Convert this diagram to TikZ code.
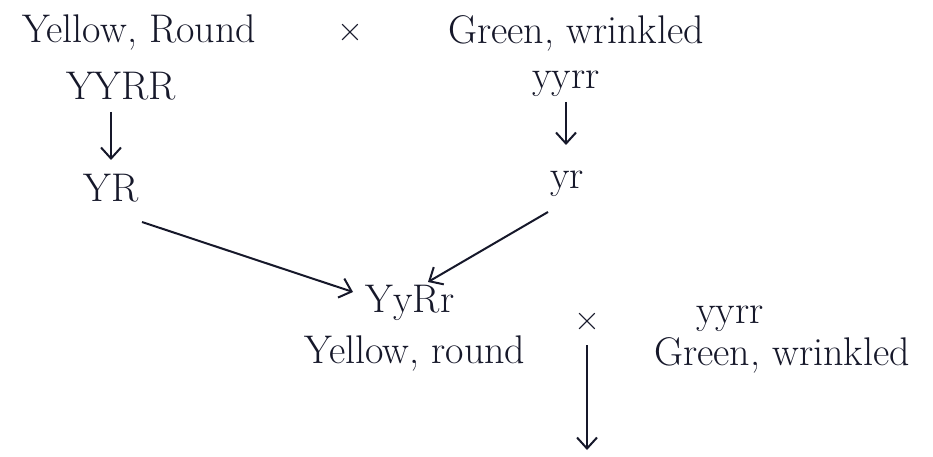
\documentclass[tikz,border=0pt]{standalone}
\usetikzlibrary{arrows.meta}
\definecolor{ink}{HTML}{16182A}
\begin{document}
\begin{tikzpicture}[x=1pt,y=-1pt,
  lbl/.style={text=ink, inner sep=1pt, font=\fontsize{40}{44}\selectfont},
  crs/.style={text=ink, inner sep=1pt, font=\fontsize{36}{40}\selectfont},
  conn/.style={draw=ink, line width=2pt, -{Straight Barb[length=11pt,width=20pt,line width=2pt]}}]
  \useasboundingbox[fill=white] (0,0) rectangle (933,457);
  % first cross: parents
  \node[lbl] (p1) at (139,33) {Yellow, Round};
  \node[crs] (x1) at (350,33) {×};
  \node[lbl] (p2) at (576,33) {Green, wrinkled};
  \node[lbl] (g1) at (121,86) {YYRR};
  \node[lbl] (g2) at (566,84) {yyrr};
  % gametes
  \node[lbl] (a1) at (111,188) {YR};
  \node[lbl] (a2) at (567,184) {yr};
  % F1 hybrid
  \node[lbl] (f1) at (410,303) {YyRr};
  \node[lbl] (f1p) at (415,353) {Yellow, round};
  % second cross
  \node[crs] (x2) at (587,322) {×};
  \node[lbl] (g3) at (730,319) {yyrr};
  \node[lbl] (p3) at (782,355) {Green, wrinkled};
  \coordinate (end) at (587,450);
  % connectors
  \draw[conn] ([shift={(-10,26)}]g1.center) -- ([shift={(0,-28)}]a1.center);
  \draw[conn] ([shift={(0,18)}]g2.center) -- ([shift={(-1,-39)}]a2.center);
  \draw[conn] ([shift={(31,34)}]a1.center) -- ([shift={(-57,-11)}]f1.center);
  \draw[conn] ([shift={(-19,28)}]a2.center) -- ([shift={(18,-21)}]f1.center);
  \draw[conn] ([shift={(0,23)}]x2.center) -- (end);
\end{tikzpicture}
\end{document}
